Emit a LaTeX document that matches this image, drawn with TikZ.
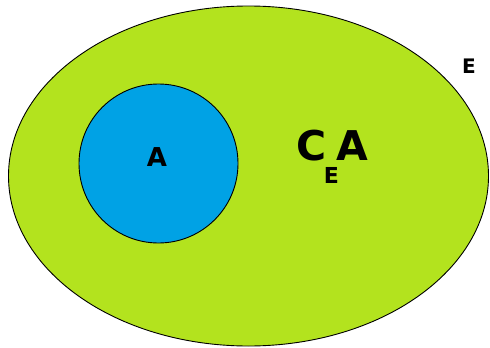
\documentclass[tikz,border=0pt]{standalone}
\usepackage{fontspec}
\setmainfont{DejaVu Sans}
\usetikzlibrary{shapes.geometric}
\definecolor{setgreen}{RGB}{179,227,30}
\definecolor{setblue}{RGB}{0,162,229}
\tikzset{
  setline/.style={draw=black, line width=0.9pt},
  lbl/.style={inner sep=0pt, font=\bfseries, text=black}
}
\begin{document}
\begin{tikzpicture}[x=1pt,y=-1pt]
\useasboundingbox (0,0) rectangle (490,348);
\node[setline, fill=setgreen, ellipse, inner sep=0pt, minimum width=480pt, minimum height=340pt] (univ) at (248.5,176) {};
\node[setline, fill=setblue, circle, inner sep=0pt, minimum size=159pt] (setA) at (158.5,163.5) {};
\node[lbl, font=\bfseries\fontsize{26}{26}\selectfont, anchor=base] (labA) at (157,166) {A};
\node[lbl, font=\bfseries\fontsize{20}{20}\selectfont, anchor=base] (labE) at (469,73) {E};
\node[lbl, anchor=base west] (labC) at (296,160) {\fontsize{41}{41}\selectfont C\kern-2.5pt\raisebox{-23pt}{\fontsize{22}{22}\selectfont E}\kern-2pt A};
\end{tikzpicture}
\end{document}
